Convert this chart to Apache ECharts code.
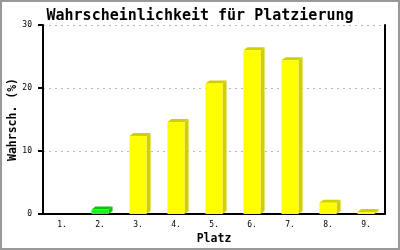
<!DOCTYPE html>
<html>
<head>
<meta charset="utf-8">
<script src="https://cdn.jsdelivr.net/npm/echarts@6/dist/echarts.min.js"></script>
<style>html,body{margin:0;padding:0;background:#fff}#c{width:400px;height:250px}</style>
</head>
<body>
<div id="c"></div>
<script>
const categories = ['1.', '2.', '3.', '4.', '5.', '6.', '7.', '8.', '9.'];
const values = [0, 0.7, 12.4, 14.6, 20.7, 26.0, 24.4, 1.8, 0.3];
const highlightIndex = [1];
const yTicks = [0, 10, 20, 30];

const mono = 'DejaVu Sans Mono';
const chart = echarts.init(document.getElementById('c'), null, {renderer: 'canvas'});

function renderItem(params, api) {
  const v = api.value(1);
  if (!v) return null;
  const top = api.coord([api.value(0), v]);
  const base = api.coord([api.value(0), 0]);
  const w = api.size([1, 0])[0] * 0.45;
  const dx = 4, dy = 3;
  const x0 = top[0] - w / 2, x1 = top[0] + w / 2;
  const hl = highlightIndex.indexOf(params.dataIndex) >= 0;
  const front = hl ? '#22ee22' : '#ffff00';
  const dark = hl ? '#00c800' : '#d0d000';
  return {
    type: 'group',
    children: [
      {type: 'polygon', shape: {points: [[x1, top[1]], [x1 + dx, top[1] - dy], [x1 + dx, base[1] - dy], [x1, base[1]]]}, style: {fill: dark}},
      {type: 'polygon', shape: {points: [[x0, top[1]], [x0 + dx, top[1] - dy], [x1 + dx, top[1] - dy], [x1, top[1]]]}, style: {fill: dark}},
      {type: 'rect', shape: {x: x0, y: top[1], width: w, height: base[1] - top[1]}, style: {fill: front}}
    ]
  };
}

chart.setOption({
  animation: false,
  backgroundColor: '#ffffff',
  title: {
    text: 'Wahrscheinlichkeit für Platzierung',
    left: 'center', top: 4,
    textStyle: {fontFamily: mono, fontWeight: 'bold', fontSize: 15, color: '#000'}
  },
  graphic: [{
    type: 'rect', shape: {x: 1, y: 1, width: 398, height: 248},
    style: {fill: 'none', stroke: '#999999', lineWidth: 2}, silent: true
  }],
  grid: {left: 43, right: 15, top: 25, bottom: 36, containLabel: false, outerBoundsMode: 'none'},
  xAxis: {
    type: 'category', data: categories, boundaryGap: true,
    name: 'Platz', nameLocation: 'middle', nameGap: 19, nameMoveOverlap: false,
    nameTextStyle: {fontFamily: mono, fontWeight: 'bold', fontSize: 11.5, color: '#000'},
    axisLine: {lineStyle: {color: '#000', width: 2}},
    axisTick: {show: false},
    axisLabel: {fontFamily: mono, fontSize: 8, color: '#000', margin: 7}
  },
  yAxis: [{
    type: 'value', min: 0, max: 30, interval: 10,
    name: 'Wahrsch. (%)', nameLocation: 'middle', nameGap: 24, nameMoveOverlap: false,
    nameTextStyle: {fontFamily: mono, fontWeight: 'bold', fontSize: 11.5, color: '#000'},
    axisLine: {show: true, lineStyle: {color: '#000', width: 2}},
    axisTick: {show: true, length: 5, lineStyle: {color: '#000', width: 2}},
    axisLabel: {fontFamily: mono, fontSize: 8, color: '#000', margin: 11,
      formatter: function (v) { return yTicks.indexOf(v) >= 0 ? String(v) : ''; }},
    splitLine: {show: true, lineStyle: {color: '#bbbbbb', type: [2, 4], width: 1}}
  }, {
    type: 'value', min: 0, max: 30, interval: 10, position: 'right',
    axisLine: {show: true, lineStyle: {color: '#000', width: 2}},
    axisTick: {show: false}, axisLabel: {show: false}, splitLine: {show: false}
  }],
  series: [{
    type: 'custom',
    renderItem: renderItem,
    encode: {x: 0, y: 1},
    data: values.map((v, i) => [i, v])
  }]
});
</script>
</body>
</html>
